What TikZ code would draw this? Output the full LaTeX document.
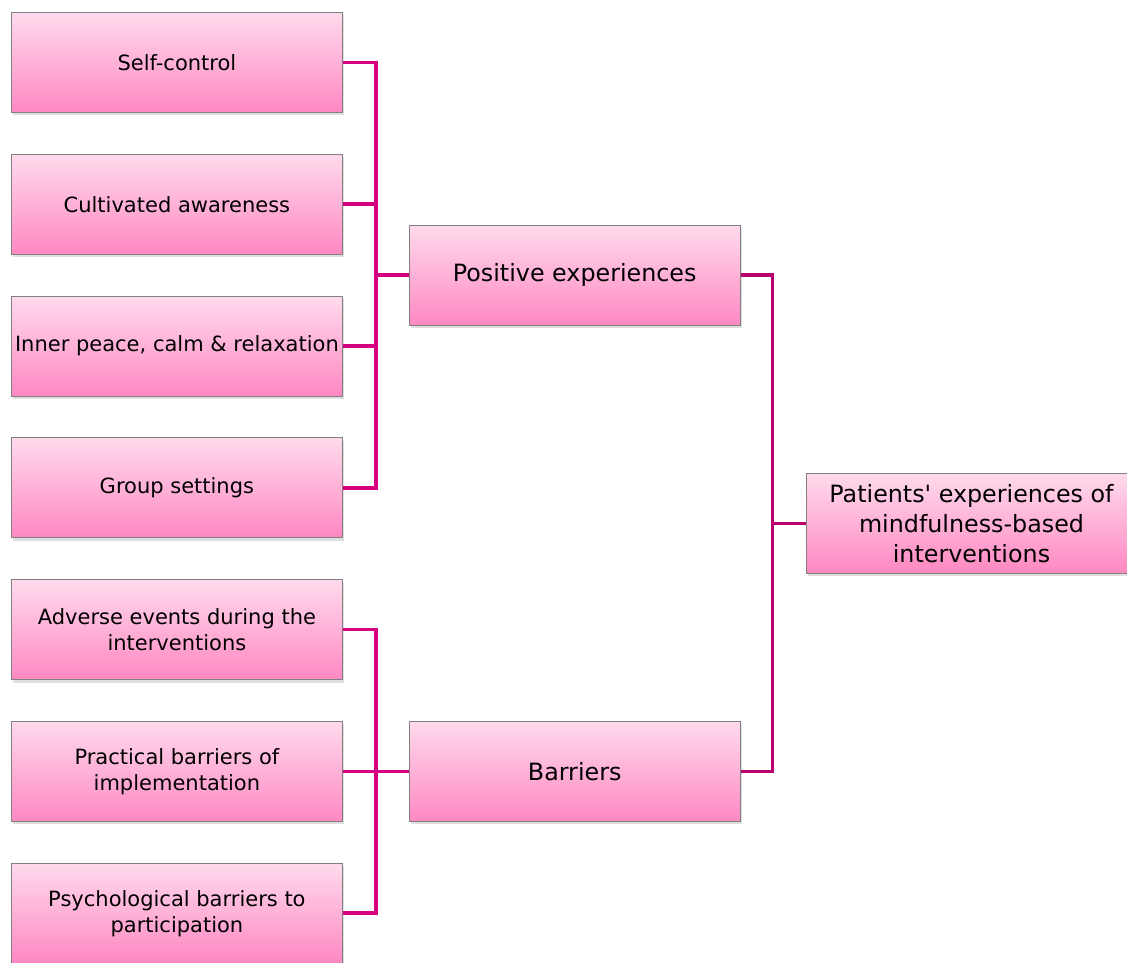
\documentclass[tikz,border=0pt]{standalone}
\usepackage{fontspec}
\setmainfont{DejaVu Sans}
\usetikzlibrary{positioning,calc,shadows}
\definecolor{pinktop}{HTML}{FFDAEC}
\definecolor{pinkbot}{HTML}{FF88C2}
\definecolor{linkpink}{HTML}{D5007F}
\definecolor{linkdark}{HTML}{B8006E}

\begin{document}
\begin{tikzpicture}[x=1pt, y=1pt, node distance=41pt and 66pt,
      theme/.style={draw=gray, line width=0.8pt, top color=pinktop, bottom color=pinkbot,
        minimum width=331pt, minimum height=100pt, inner sep=1pt, align=center,
        font=\fontsize{21}{26}\selectfont,
        drop shadow={shadow xshift=2pt, shadow yshift=-3pt, opacity=0.25}},
      big/.style={font=\fontsize{23.8}{30}\selectfont},
      link/.style={linkpink, line width=3.5pt},
      trunk/.style={linkdark, line width=3.5pt}]
     \useasboundingbox (0,0) rectangle (1127,-962);
     % themes of positive experiences
     \node[theme, anchor=north west] (self) at (11,-12) {Self-control};
     \node[theme, below = of self] (aware) {Cultivated awareness};
     \node[theme, below = of aware] (inner) {Inner peace, calm \& relaxation};
     \node[theme, below = of inner] (group) {Group settings};
     % themes of barriers
     \node[theme, below = of group] (adverse) {Adverse events during the\\interventions};
     \node[theme, below = of adverse] (practical) {Practical barriers of\\implementation};
     \node[theme, below = of practical] (psych) {Psychological barriers to\\participation};
     % main themes
     \coordinate (posmid) at ($(aware.east)!0.5!(inner.east)$);
     \node[theme, big, right = of posmid] (positive) {Positive experiences};
     \node[theme, big, right = of practical] (barriers) {Barriers};
     \coordinate (rootmid) at ($(positive.east)!0.5!(barriers.east)$);
     \node[theme, big, right = 65pt of rootmid] (root) {Patients\textquotesingle{} experiences of\\mindfulness-based\\interventions};
     % connectors
     \coordinate (posbus) at ($(positive.west)+(-33,0)$);
     \coordinate (barbus) at ($(barriers.west)+(-33,0)$);
     \coordinate (rootbus) at ($(root.west)+(-33,0)$);
     \foreach \n in {self,aware,inner,group}
       \draw[link] (\n.east) -| (posbus);
     \draw[link] (posbus) -- (positive.west);
     \foreach \n in {adverse,practical,psych}
       \draw[link] (\n.east) -| (barbus);
     \draw[link] (barbus) -- (barriers.west);
     \draw[trunk] (positive.east) -| (rootbus);
     \draw[trunk] (barriers.east) -| (rootbus);
     \draw[trunk] (rootbus) -- (root.west);
    \end{tikzpicture}
\end{document}
